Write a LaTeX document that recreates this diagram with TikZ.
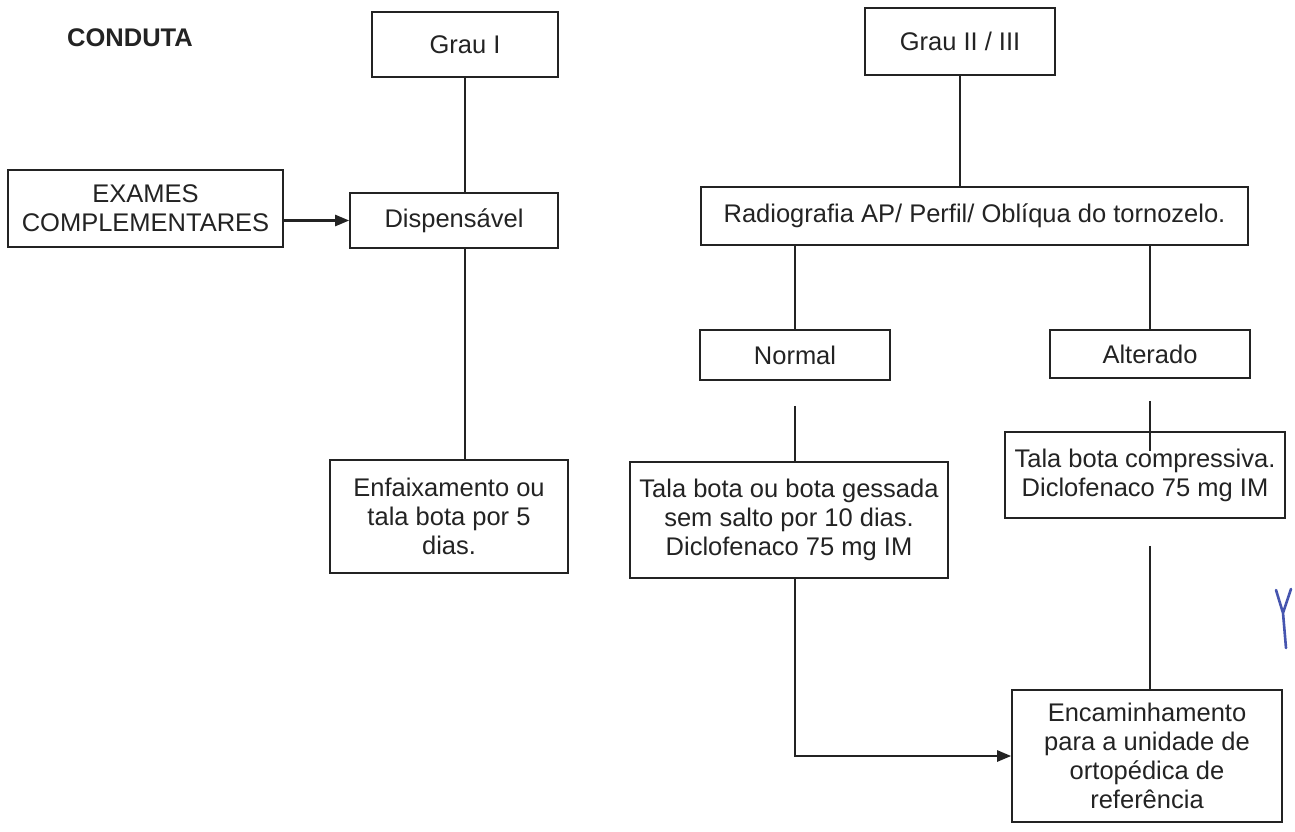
\documentclass[tikz,border=0pt]{standalone}
\usepackage{fontspec}
\setmainfont{Liberation Sans}
\usetikzlibrary{arrows.meta,calc}
\definecolor{ink}{RGB}{35,35,35}
\definecolor{pen}{RGB}{70,85,175}
\begin{document}
\begin{tikzpicture}[x=1pt,y=-1pt,
  box/.style={draw=ink,line width=1.6pt,rectangle,align=center,inner sep=0pt,
    font=\fontsize{25.5}{29}\selectfont,text=ink},
  link/.style={draw=ink,line width=1.5pt},
  arr/.style={draw=ink,line width=2.4pt,-{Triangle[length=14pt,width=11pt]}}]
\useasboundingbox[fill=white] (0,0) rectangle (1295,831);

% title
\node[font=\bfseries\fontsize{25.5}{29}\selectfont,text=ink] (title) at (130,38) {CONDUTA};

% grade I branch
\node[box,minimum width=186,minimum height=65] (g1) at (465,44.5) {Grau I};
\node[box,minimum width=275,minimum height=77] (exames) at (145.5,208.5) {EXAMES\\COMPLEMENTARES};
\node[box,minimum width=208,minimum height=55] (disp) at (454,220.5) {Dispensável};
\node[box,minimum width=238,minimum height=113] (enf) at (449,516.5) {Enfaixamento ou\\tala bota por 5\\dias.};

% grade II / III branch
\node[box,minimum width=190,minimum height=67] (g23) at (960,41.5) {Grau II / III};
\node[box,minimum width=547,minimum height=58] (radio) at (974.5,216) {Radiografia AP/ Perfil/ Oblíqua do tornozelo.};
\node[box,minimum width=190,minimum height=50] (normal) at (795,355) {Normal};
\node[box,minimum width=200,minimum height=48] (alter) at (1150,354) {Alterado};
\node[box,minimum width=318,minimum height=116] (tala) at (789,520) {Tala bota ou bota gessada\\sem salto por 10 dias.\\Diclofenaco 75 mg IM};
\node[box,minimum width=280,minimum height=86] (comp) at (1145,475) {Tala bota compressiva.\\Diclofenaco 75 mg IM};
\node[box,minimum width=270,minimum height=132] (enc) at (1147,756) {Encaminhamento\\para a unidade de\\ortopédica de\\referência};

% connectors, grade I
\draw[link] (g1.south) -- (g1.south |- disp.north);
\draw[link] (g1.south |- disp.south) -- (g1.south |- enf.north);
\draw[arr] (exames.east |- disp.west) -- (disp.west);

% connectors, grade II / III
\draw[link] (g23.south) -- (g23.south |- radio.north);
\draw[link] (normal.north |- radio.south) -- (normal.north);
\draw[link] (alter.north |- radio.south) -- (alter.north);
\draw[link] ($(normal.south)+(0,25)$) -- (normal.south |- tala.north);
\draw[link] ($(alter.south)+(0,22)$) -- ($(alter.south |- comp.north)+(0,20)$);
\draw[link] ($(alter.south |- comp.south)+(0,27)$) -- (alter.south |- enc.north);
\coordinate (bend) at (normal.south |- enc.west);
\draw[arr] (normal.south |- tala.south) -- (bend) -- (enc.west);

% pen mark in the margin
\draw[pen,line width=2.6pt,line cap=round,line join=round]
  (1276,590) -- (1283,613) -- (1286,648)
  (1283,613) -- (1291,589);
\end{tikzpicture}
\end{document}
